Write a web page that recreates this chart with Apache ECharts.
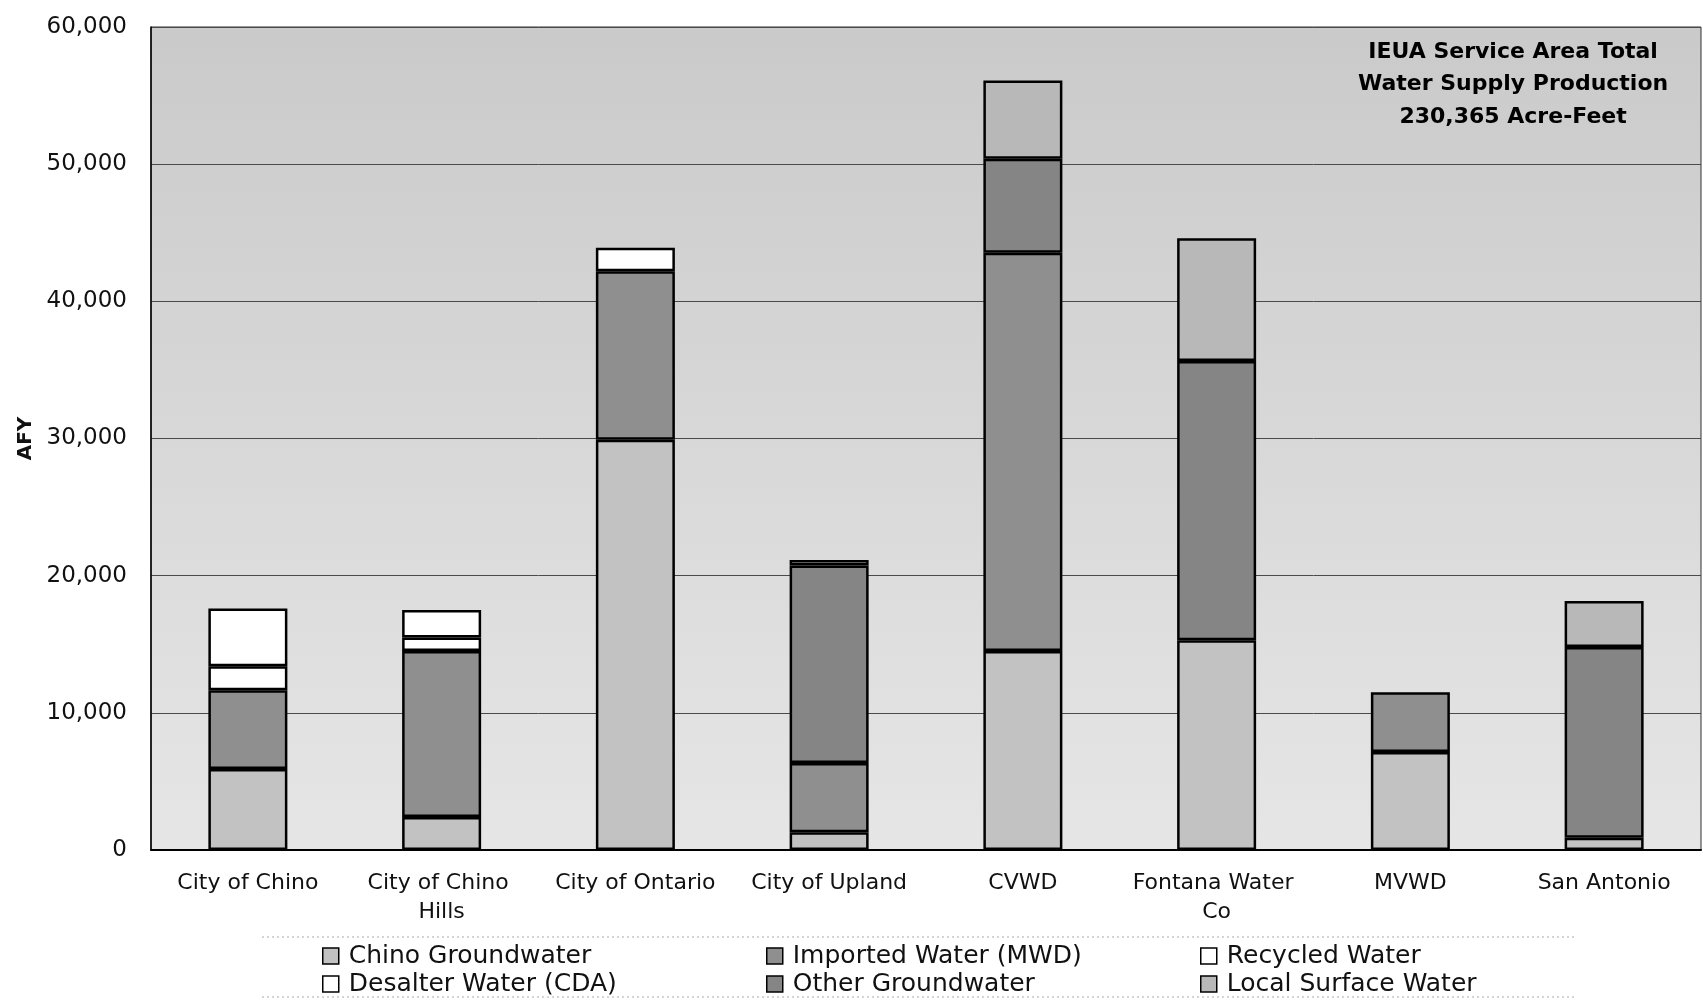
<!DOCTYPE html>
<html>
<head>
<meta charset="utf-8">
<script src="https://cdn.jsdelivr.net/npm/echarts@6/dist/echarts.min.js"></script>
<style>
  html, body { margin: 0; padding: 0; background: #ffffff; }
  #chart { width: 1703px; height: 1002px; }
</style>
</head>
<body>
<div id="chart"></div>
<script>
// ---- data (AFY) ----
var categories = ['City of Chino', 'City of Chino Hills', 'City of Ontario', 'City of Upland', 'CVWD', 'Fontana Water Co', 'MVWD', 'San Antonio'];
var chinoGroundwater   = [5900, 2400, 29900, 1300, 14500, 15300, 7150, 900];
var importedWater      = [5750, 12100, 12300, 5050, 29050, 0, 4350, 0];
var recycledWater      = [1750, 1000, 0, 0, 0, 0, 0, 0];
var desalterWater      = [4200, 2000, 1700, 0, 0, 0, 0, 0];
var otherGroundwater   = [0, 0, 0, 14400, 6850, 20350, 0, 13900];
var localSurfaceWater  = [0, 0, 0, 400, 5700, 8950, 0, 3350];
var yTicks = [0, 10000, 20000, 30000, 40000, 50000, 60000];
var titleLines = ['IEUA Service Area Total', 'Water Supply Production', '230,365 Acre-Feet'];

var FONT = '"DejaVu Sans", "Liberation Sans", Arial, sans-serif';

function clean(arr) { return arr.map(function (v) { return v === 0 ? null : v; }); }

var seriesDefs = [
  { name: 'Chino Groundwater',    data: chinoGroundwater,  color: '#c2c2c2' },
  { name: 'Imported Water (MWD)', data: importedWater,     color: '#8f8f8f' },
  { name: 'Recycled Water',       data: recycledWater,     color: '#ffffff' },
  { name: 'Desalter Water (CDA)', data: desalterWater,     color: '#ffffff' },
  { name: 'Other Groundwater',    data: otherGroundwater,  color: '#858585' },
  { name: 'Local Surface Water',  data: localSurfaceWater, color: '#b8b8b8' }
];

var series = seriesDefs.map(function (s) {
  return {
    name: s.name,
    type: 'bar',
    stack: 'total',
    barWidth: 79,
    data: clean(s.data),
    itemStyle: { color: s.color, borderColor: '#000', borderWidth: 2.5 },
    emphasis: { disabled: true }
  };
});

function legendCol(names, left) {
  return {
    orient: 'vertical',
    left: left,
    top: 943,
    padding: 0,
    itemGap: 2,
    itemWidth: 16,
    itemHeight: 16,
    icon: 'rect',
    selectedMode: false,
    data: names,
    itemStyle: { borderColor: '#000', borderWidth: 1.5 },
    textStyle: { fontFamily: FONT, fontSize: 25, color: '#111', lineHeight: 26, padding: [0, 0, 0, 5] }
  };
}

var chart = echarts.init(document.getElementById('chart'));
chart.setOption({
  animation: false,
  backgroundColor: '#ffffff',
  grid: {
    left: 151, top: 27, width: 1550, bottom: 152,
    show: true,
    borderColor: '#333', borderWidth: 1,
    backgroundColor: {
      type: 'linear', x: 0, y: 0, x2: 0, y2: 1,
      colorStops: [{ offset: 0, color: '#cacaca' }, { offset: 1, color: '#e6e6e6' }]
    }
  },
  legend: [
    legendCol(['Chino Groundwater', 'Desalter Water (CDA)'], 322),
    legendCol(['Imported Water (MWD)', 'Other Groundwater'], 766),
    legendCol(['Recycled Water', 'Local Surface Water'], 1200)
  ],
  xAxis: {
    type: 'category',
    data: categories,
    axisLine: { lineStyle: { color: '#000', width: 2 } },
    axisTick: { show: false },
    axisLabel: {
      interval: 0,
      margin: 19,
      fontFamily: FONT, fontSize: 22, color: '#111', lineHeight: 29,
      width: 172, overflow: 'break'
    }
  },
  yAxis: {
    type: 'value',
    min: 0, max: 60000, interval: 10000,
    name: 'AFY',
    nameLocation: 'middle',
    nameRotate: 90,
    nameGap: 108,
    nameTextStyle: { fontFamily: FONT, fontSize: 20, fontWeight: 'bold', color: '#111' },
    axisLine: { show: true, lineStyle: { color: '#000', width: 1.5 } },
    axisTick: { show: false },
    axisLabel: {
      margin: 24, fontFamily: FONT, fontSize: 23, color: '#111',
      formatter: function (v) { return yTicks.indexOf(v) >= 0 ? v.toLocaleString('en-US') : ''; }
    },
    splitLine: { lineStyle: { color: '#4a4a4a', width: 1 } }
  },
  graphic: [
    {
      type: 'text', left: 1518 - 160, top: 36, z: 100,
      style: {
        text: titleLines.join('\n'), x: 160, textAlign: 'center',
        font: 'bold 22px ' + FONT, lineHeight: 32.5, fill: '#000'
      }
    },
    { type: 'line', shape: { x1: 262, y1: 937, x2: 1575, y2: 937 }, style: { stroke: '#aaa', lineWidth: 1, lineDash: [2, 3] } },
    { type: 'line', shape: { x1: 262, y1: 997, x2: 1575, y2: 997 }, style: { stroke: '#aaa', lineWidth: 1, lineDash: [2, 3] } }
  ],
  series: series
});
</script>
</body>
</html>
